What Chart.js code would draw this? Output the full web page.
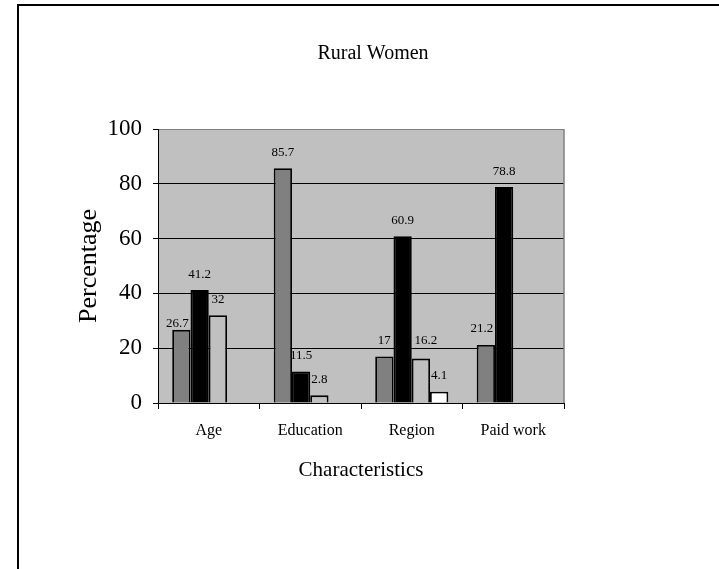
<!DOCTYPE html>
<html>
<head>
<meta charset="utf-8">
<script src="https://cdn.jsdelivr.net/npm/chart.js@4.4.1/dist/chart.umd.min.js"></script>
<style>
html,body{margin:0;padding:0;background:#fff;}
#wrap{width:719px;height:569px;position:relative;}
</style>
</head>
<body>
<div id="wrap"><canvas id="c" width="719" height="569"></canvas></div>
<script>
const categories = ['Age', 'Education', 'Region', 'Paid work'];
const series1 = [26.7, 85.7, 17, 21.2];
const series2 = [41.2, 11.5, 60.9, 78.8];
const series3 = [32, 2.8, 16.2, null];
const series4 = [null, null, 4.1, null];
const yTicks = [0, 20, 40, 60, 80, 100];
const chartTitle = 'Rural Women';
const xTitle = 'Characteristics';
const yTitle = 'Percentage';

const FONT = 'Liberation Serif, Times New Roman, serif';

const framePlugin = {
  id: 'frame',
  afterLayout(chart) {
    const t = chart.titleBlock;
    if (t) { t.left += 12; t.right += 12; }
  },
  beforeDraw(chart) {
    const ctx = chart.ctx, a = chart.chartArea;
    ctx.save();
    ctx.fillStyle = '#000';
    ctx.fillRect(17, 4, 2, chart.height - 4);
    ctx.fillRect(17, 4, chart.width - 17, 2);
    ctx.fillStyle = '#c0c0c0';
    ctx.fillRect(a.left, a.top, a.right - a.left, a.bottom - a.top);
    ctx.restore();
  },
  beforeDatasetsDraw(chart) {
    const ctx = chart.ctx, a = chart.chartArea;
    ctx.save();
    ctx.strokeStyle = '#808080';
    ctx.lineWidth = 1.5;
    ctx.beginPath();
    ctx.moveTo(a.right, a.top);
    ctx.lineTo(a.right, a.bottom);
    ctx.stroke();
    ctx.restore();
  }
};

const nudges = { '0,0': [-4, 10], '2,2': [5, -2], '0,3': [-4, 0] };
const valueLabels = {
  id: 'valueLabels',
  afterDatasetsDraw(chart) {
    const ctx = chart.ctx;
    ctx.save();
    ctx.fillStyle = '#000';
    ctx.font = '13px ' + FONT;
    ctx.textAlign = 'center';
    ctx.textBaseline = 'alphabetic';
    chart.data.datasets.forEach((ds, d) => {
      const meta = chart.getDatasetMeta(d);
      meta.data.forEach((el, i) => {
        const v = ds.data[i];
        if (v === null || v === undefined) return;
        const n = nudges[d + ',' + i] || [0, 0];
        ctx.fillText(String(v), el.x + n[0], el.y - 12.5 + n[1]);
      });
    });
    ctx.restore();
  }
};

const common = { borderColor: '#000', borderWidth: 1.8, categoryPercentage: 0.72, barPercentage: 1.0 };

new Chart(document.getElementById('c'), {
  type: 'bar',
  data: {
    labels: categories,
    datasets: [
      Object.assign({ label: 'Series 1', data: series1, backgroundColor: '#808080' }, common),
      Object.assign({ label: 'Series 2', data: series2, backgroundColor: '#000000' }, common),
      Object.assign({ label: 'Series 3', data: series3, backgroundColor: '#c0c0c0' }, common),
      Object.assign({ label: 'Series 4', data: series4, backgroundColor: '#ffffff' }, common)
    ]
  },
  plugins: [framePlugin, valueLabels],
  options: {
    responsive: false,
    animation: false,
    devicePixelRatio: 1,
    layout: { padding: { left: 0, right: 155, top: 0, bottom: 0 } },
    plugins: {
      legend: { display: false },
      tooltip: { enabled: false },
      title: {
        display: true,
        text: chartTitle,
        fullSize: false,
        color: '#000',
        font: { family: FONT, size: 20, weight: 'normal' },
        padding: { top: 42, bottom: 63 }
      }
    },
    scales: {
      x: {
        grid: { display: true, offset: true, drawOnChartArea: false, color: '#000', tickLength: 6, lineWidth: 1 },
        border: { display: true, color: '#000', width: 1 },
        ticks: { color: '#000', font: { family: FONT, size: 16 }, padding: 12, maxRotation: 0, autoSkip: false },
        title: { display: true, text: xTitle, color: '#000', font: { family: FONT, size: 21 }, padding: { top: 0, bottom: 86 } },
        afterFit(s) { s.height = 166; }
      },
      y: {
        min: 0, max: 100,
        afterBuildTicks(s) { s.ticks = yTicks.map(v => ({ value: v })); },
        grid: {
          color: (c) => (c.tick && c.tick.value === 100) ? '#808080' : (c.tick && c.tick.value === 0 ? 'rgba(0,0,0,0)' : '#000'),
          tickColor: '#000', tickLength: 5, lineWidth: 1
        },
        border: { display: true, color: '#000', width: 1 },
        ticks: { color: '#000', font: { family: FONT, size: 23 }, padding: 11 },
        title: { display: true, text: yTitle, color: '#000', font: { family: FONT, size: 26 }, padding: { top: 74, bottom: 0 } },
        afterFit(s) { s.width = 158; }
      }
    }
  }
});
</script>
</body>
</html>
